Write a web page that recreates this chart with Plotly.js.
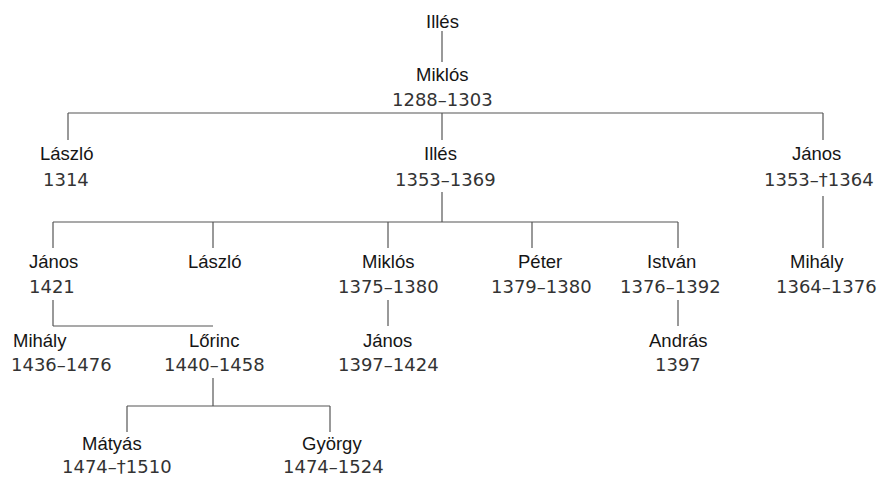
<!DOCTYPE html>
<html>
<head>
<meta charset="utf-8">
<script src="https://cdn.plot.ly/plotly-3.0.1.min.js"></script>
<style>html,body{margin:0;padding:0;background:#fff;}</style>
</head>
<body>
<div id="chart" style="width:880px;height:477px;"></div>
<script>
// ---- data: family tree ----
const names   = ["Illés","Miklós","László","Illés","János","János","László","Miklós","Péter","István","Mihály","Mihály","Lőrinc","János","András","Mátyás","György"];
const years   = ["","1288–1303","1314","1353–1369","1353–†1364","1421","","1375–1380","1379–1380","1376–1392","1364–1376","1436–1476","1440–1458","1397–1424","1397","1474–†1510","1474–1524"];
const parents = [-1,0,1,1,1,3,3,3,3,3,4,5,5,7,9,12,12];

// ---- layout (positions in chart pixel space) ----
const generation = [0,1,2,2,2,3,3,3,3,3,3,4,4,4,4,5,5];
const nameX   = [442,442,66,440,816,53,214,388,540,671,817,40,214,387,678,112,332];
const yearX   = [442,442,66,445,819,52,214,388,541,670,826,61,214,388,678,117,333];
const anchorX = [442,442,68,442,823,53,213,388,532,678,823,53,213,388,678,127,330];
const genNameY = [21,74,153,261,340,443];
const genYearY = [null,99,179,286,364,466];
const genTopY  = [null,62,140,248,326,432];   // line end above a child's name
const genBotY  = [31,113,192,300,378,null];   // line start below a parent's text
const barY = {1:113, 3:222, 5:326, 12:406};    // horizontal bar of multi-child families

// ---- build connector lines ----
const lx = [], ly = [];
function seg(x0,y0,x1,y1){ lx.push(x0,x1,null); ly.push(y0,y1,null); }
const kids = {};
parents.forEach((p,i)=>{ if(p>=0){ (kids[p]=kids[p]||[]).push(i); } });
Object.keys(kids).forEach(k=>{
  const p = +k, ch = kids[p];
  const py = genBotY[generation[p]];
  if (ch.length === 1) {
    const c = ch[0];
    seg(anchorX[p], p===4 ? 196 : py, anchorX[p], genTopY[generation[c]]);
  } else {
    const by = barY[p];
    if (by > py) seg(anchorX[p], py, anchorX[p], by);
    const xs = ch.map(c=>anchorX[c]).concat([anchorX[p]]);
    seg(Math.min(...xs), by, Math.max(...xs), by);
    ch.forEach(c=>{ const ty = genTopY[generation[c]]; if (ty > by) seg(anchorX[c], by, anchorX[c], ty); });
  }
});

const annotations = [];
names.forEach((n,i)=>{
  annotations.push({x:nameX[i], y:genNameY[generation[i]], text:n, showarrow:false,
    xanchor:'center', yanchor:'middle',
    font:{family:'Liberation Sans, Arial, sans-serif', size:18.5, color:'#151515'}});
  if (years[i]) annotations.push({x:yearX[i], y:genYearY[generation[i]], text:years[i], showarrow:false,
    xanchor:'center', yanchor:'middle',
    font:{family:'DejaVu Sans, sans-serif', size:18, color:'#333333'}});
});

const trace = {x:lx, y:ly, mode:'lines', type:'scatter', hoverinfo:'skip',
  line:{color:'#555555', width:1.2}, connectgaps:false};

const layout = {
  width:880, height:477, margin:{l:0,r:0,t:0,b:0},
  paper_bgcolor:'#ffffff', plot_bgcolor:'#ffffff', showlegend:false,
  xaxis:{range:[0,880], visible:false, fixedrange:true},
  yaxis:{range:[477,0], visible:false, fixedrange:true},
  annotations:annotations
};
Plotly.newPlot('chart',[trace],layout,{displayModeBar:false, staticPlot:true});
</script>
</body>
</html>
